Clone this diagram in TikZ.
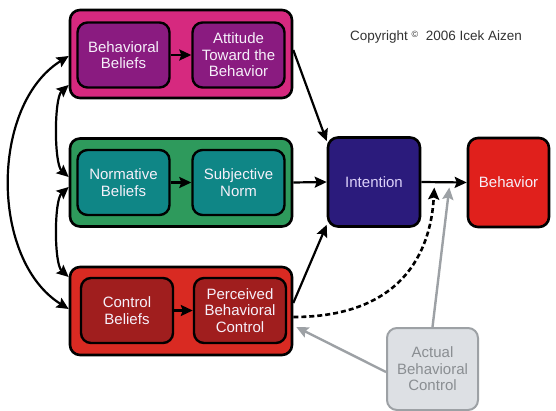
\documentclass[tikz,border=0pt]{standalone}
\usepackage{fontspec}
\setmainfont{Liberation Sans}
\usetikzlibrary{arrows.meta,calc}
\definecolor{magOut}{HTML}{D6297F}
\definecolor{magIn}{HTML}{8A1B80}
\definecolor{grnOut}{HTML}{2E9A5C}
\definecolor{grnIn}{HTML}{0F8686}
\definecolor{redOut}{HTML}{D92A22}
\definecolor{redIn}{HTML}{A01E1E}
\definecolor{intCol}{HTML}{2B1B7C}
\definecolor{behCol}{HTML}{E0201C}
\definecolor{abcFill}{HTML}{DDE0E4}
\definecolor{abcLine}{HTML}{9DA1A5}
\definecolor{abcText}{HTML}{8A8E92}
\definecolor{lblText}{HTML}{F6F0FA}
\definecolor{intText}{HTML}{DCD2FA}
\begin{document}
\begin{tikzpicture}[x=1pt,y=-1pt,
  outerbox/.style={draw=black,line width=2.6pt,rounded corners=10pt,minimum width=222pt,minimum height=88pt},
  innerbox/.style={draw=black,line width=2.4pt,rounded corners=10pt,minimum width=92pt,minimum height=65pt,
     text=lblText,align=center,font=\fontsize{15}{16.5}\selectfont,inner sep=0pt},
  bigbox/.style={draw=black,line width=2.6pt,rounded corners=10pt,minimum width=92pt,minimum height=89pt,
     text=lblText,align=center,font=\fontsize{15}{16.5}\selectfont,inner sep=0pt},
  tip/.tip={Stealth[length=12pt,width=11pt,inset=2pt]},
  conn/.style={line width=2.2pt,draw=black,-tip},
  both/.style={line width=2.2pt,draw=black,tip-tip},
  grayconn/.style={line width=2.4pt,draw=abcLine,-tip},
]
\useasboundingbox[fill=white] (0,0) rectangle (556,411);

% outer group boxes
\node[outerbox,fill=magOut] (top) at (181,54) {};
\node[outerbox,fill=grnOut] (mid) at (181,182.5) {};
\node[outerbox,fill=redOut] (bot) at (181,311) {};

% inner boxes
\node[innerbox,fill=magIn] (bb) at (123.5,55) {Behavioral\\Beliefs};
\node[innerbox,fill=magIn] (atb) at (238.5,55) {Attitude\\Toward the\\Behavior};
\node[innerbox,fill=grnIn] (nb) at (123.5,182.5) {Normative\\Beliefs};
\node[innerbox,fill=grnIn] (sn) at (238.5,182.5) {Subjective\\Norm};
\node[innerbox,fill=redIn] (cb) at (127,310.5) {Control\\Beliefs};
\node[innerbox,fill=redIn] (pbc) at (240,310.5) {Perceived\\Behavioral\\Control};

% intention, behavior
\node[bigbox,fill=intCol,text=intText] (int) at (374,182) {Intention};
\node[bigbox,fill=behCol,minimum width=81pt] (beh) at (508.5,182.5) {Behavior};

% actual behavioral control
\node[draw=abcLine,fill=abcFill,line width=2pt,rounded corners=10pt,minimum width=91pt,minimum height=82pt,
      text=abcText,align=center,font=\fontsize{15}{16.5}\selectfont,inner sep=0pt] (abc) at (432.5,369) {Actual\\Behavioral\\Control};

% copyright
\node[text=black!80,font=\fontsize{13.5}{15}\selectfont] (copy) at (436,37) {Copyright {\raisebox{3pt}{\fontsize{9}{9}\selectfont\textcopyright}}~ 2006 Icek Aizen};

% inner arrows
\draw[conn] (bb) -- (atb);
\draw[conn] (nb) -- (sn);
\draw[conn] (cb) -- (pbc);

% to intention
\draw[conn] ([yshift=4pt]top.east) -- ([yshift=-5pt]int.north west);
\draw[conn] (mid.east) -- (int.west);
\draw[conn] ([yshift=8pt]bot.east) -- ([yshift=3pt]int.south west);
\draw[conn] (int.east) -- (beh.west);

% left double arrows
\draw[both] ([yshift=-2pt]top.west) .. controls (-10,105) and (-10,260) .. ([yshift=2pt]bot.west);
\draw[both] ([yshift=-31pt]top.west) .. controls (54,98) and (54,164) .. ([yshift=5.5pt]mid.west);
\draw[both] ([yshift=-4.5pt]mid.west) .. controls (54,200) and (54,264) .. ([yshift=34pt]bot.west);

% dashed and gray
\coordinate (dend) at ([xshift=13pt,yshift=-5.5pt]int.east);
\coordinate (gend) at ([xshift=28pt,yshift=-5.5pt]int.east);
\draw[line width=2.6pt,dash pattern=on 5pt off 3pt,-tip]
  ([yshift=-6pt]bot.east) .. controls (390,317) and (430,265) .. (dend);
\draw[grayconn] (abc.north) -- (gend);
\draw[grayconn] ([yshift=-3pt]abc.west) -- ([xshift=3pt,yshift=-16pt]bot.east);
\end{tikzpicture}
\end{document}
